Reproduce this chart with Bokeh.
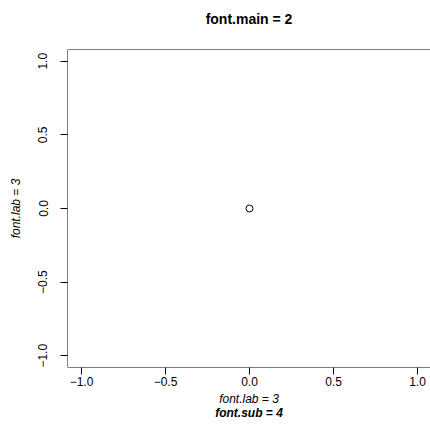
from bokeh.plotting import figure
from bokeh.models import Range1d, FixedTicker, Span, LinearAxis
from bokeh.embed import file_html
from bokeh.resources import INLINE

# data
xs = [0.0]
ys = [0.0]
tick_values = [-1.0, -0.5, 0.0, 0.5, 1.0]
tick_labels = ["\u22121.0", "\u22120.5", "0.0", "0.5", "1.0"]
x_lim = (-1.0833, 1.0774)
y_lim = (-1.08, 1.08)
main_title = "font.main = 2"
x_label = "font.lab = 3"
y_label = "font.lab = 3"
sub_title = "font.sub = 4"

FONT = "Liberation Sans"

p = figure(width=430, height=443, output_backend="svg", toolbar_location=None,
           x_range=Range1d(*x_lim), y_range=Range1d(*y_lim),
           min_border_left=67, min_border_right=0, min_border_top=49, min_border_bottom=76)
p.grid.visible = False
p.outline_line_color = None
p.background_fill_color = "white"
p.border_fill_color = "white"

# box (left, top, bottom)
for loc, dim in [(x_lim[0], "height"), (y_lim[1], "width"), (y_lim[0], "width")]:
    p.add_layout(Span(location=loc, dimension=dim, line_color="black", line_width=1))

overrides = {v: l for v, l in zip(tick_values, tick_labels)}
for ax in (p.xaxis[0], p.yaxis[0]):
    ax.ticker = FixedTicker(ticks=tick_values)
    ax.major_label_overrides = overrides
    ax.axis_line_color = None
    ax.major_tick_out = 7
    ax.major_tick_in = 0
    ax.major_tick_line_color = "black"
    ax.minor_tick_line_color = None
    ax.major_label_text_font = FONT
    ax.major_label_text_font_size = "12px"
    ax.major_label_text_color = "black"
    ax.axis_label_text_font = FONT
    ax.axis_label_text_font_size = "12px"
    ax.axis_label_text_font_style = "italic"
    ax.axis_label_text_color = "black"

p.xaxis[0].axis_label = x_label
p.xaxis[0].major_label_standoff = 2
p.xaxis[0].axis_label_standoff = 3
p.yaxis[0].axis_label = y_label
p.yaxis[0].major_label_orientation = "vertical"
p.yaxis[0].major_label_standoff = 13
p.yaxis[0].axis_label_standoff = 13


def text_axis(label, size, style, standoff):
    return LinearAxis(ticker=FixedTicker(ticks=[]), axis_line_color=None,
                      major_tick_line_color=None, minor_tick_line_color=None,
                      major_tick_out=0, major_tick_in=0, major_label_standoff=0,
                      axis_label=label, axis_label_standoff=standoff,
                      axis_label_text_font=FONT, axis_label_text_font_size=size,
                      axis_label_text_font_style=style, axis_label_text_color="black")


# subtitle below the x label, main title above the frame
p.add_layout(text_axis(sub_title, "12px", "bold italic", -3), "below")
p.add_layout(text_axis(main_title, "14px", "bold", 23), "above")

p.scatter(xs, ys, marker="circle", size=7, fill_color=None, line_color="black", line_width=1)

open("out.html", "w").write(file_html(p, INLINE))
